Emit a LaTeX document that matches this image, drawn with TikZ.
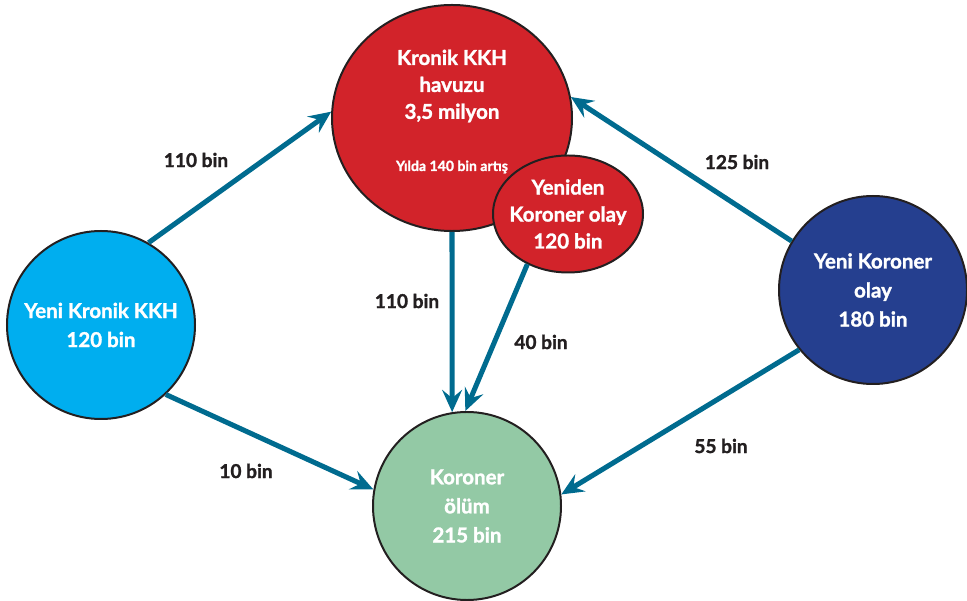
\documentclass[tikz,border=0pt]{standalone}
\usepackage{fontspec}
\setmainfont{Lato}[BoldFeatures={FakeBold=1.4}]
\usetikzlibrary{arrows.meta,shapes.geometric}
\definecolor{kkhred}{HTML}{D2232A}
\definecolor{kkhcyan}{HTML}{00AEEF}
\definecolor{kkhnavy}{HTML}{253F8F}
\definecolor{kkhgreen}{HTML}{93C9A5}
\definecolor{flowblue}{HTML}{006B8F}
\definecolor{outline}{HTML}{231F20}

\tikzset{
  stock/.style={circle, draw=outline, line width=1.7pt, minimum size=5.64cm, inner sep=0pt,
    text=white, align=center, font=\fontsize{17.5}{24.8}\selectfont\bfseries},
  pool/.style={ellipse, draw=outline, line width=1.7pt, fill=kkhred, inner sep=0pt},
  intext/.style={text=white, align=center, font=\fontsize{17.5}{23}\selectfont\bfseries},
  note/.style={text=white, font=\fontsize{12}{14}\selectfont\bfseries},
  flowline/.style={flowblue, line width=4.3pt, -{Stealth[length=19pt,width=17pt,inset=7pt]}},
  amount/.style={text=outline, font=\fontsize{16.3}{18}\selectfont\bfseries}
}

\begin{document}
\begin{tikzpicture}[x=0.03cm, y=-0.03cm]
\useasboundingbox (0,0) rectangle (967,601);
% havuz
\node[pool, minimum width=7.2cm, minimum height=6.78cm] (pool) at (452,118) {};
\node[intext] (pooltext) at (452,86) {Kronik KKH\\havuzu\\3,5 milyon};
\node[note] (poolnote) at (452,167) {Yılda 140 bin artış};
\node[pool, minimum width=4.5cm, minimum height=3.51cm] (again) at (568,214) {};
\node[intext] (againtext) at (568,214) {Yeniden\\Koroner olay\\120 bin};
% yeni olaylar ve olum
\node[stock, fill=kkhcyan] (newkkh) at (101,325) {Yeni Kronik KKH\\120 bin};
\node[stock, fill=kkhnavy] (newcor) at (873,290) {Yeni Koroner\\olay\\180 bin};
\node[stock, fill=kkhgreen] (death) at (467,506) {Koroner\\ölüm\\215 bin};
% akislar
\draw[flowline] (newkkh.60) -- (pool.177);
\draw[flowline] (newkkh.-47) -- (death.170);
\draw[flowline] (pool.-90) -- (death.99);
\draw[flowline] (again.231) -- (death.91);
\draw[flowline] (newcor.149) -- (pool.10);
\draw[flowline] (newcor.219) -- (death.7);
\node[amount] (a1) at (196,160) {110 bin};
\node[amount] (a2) at (246,471) {10 bin};
\node[amount] (a3) at (407,301) {110 bin};
\node[amount] (a4) at (541,342) {40 bin};
\node[amount] (a5) at (737,162) {125 bin};
\node[amount] (a6) at (721,446) {55 bin};
\end{tikzpicture}
\end{document}
